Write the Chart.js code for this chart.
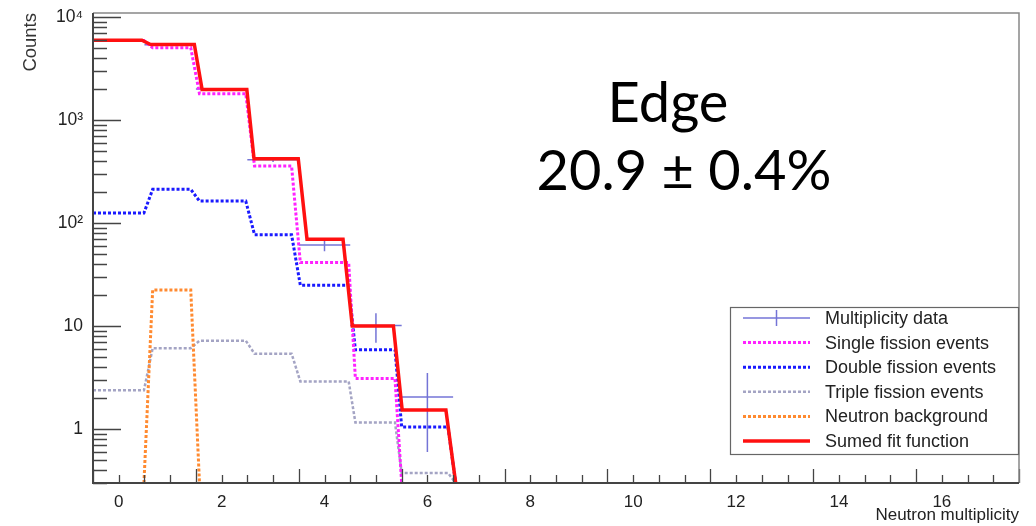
<!DOCTYPE html>
<html>
<head>
<meta charset="utf-8">
<script src="https://cdn.jsdelivr.net/npm/chart.js@4.4.1/dist/chart.umd.min.js"></script>
<style>
  html, body { margin: 0; padding: 0; background: #fff; }
  canvas { display: block; }
</style>
</head>
<body>
<canvas id="chart" width="1036" height="526"></canvas>
<script>
// neutron multiplicity bins
const bins = [0, 1, 2, 3, 4, 5, 6, 7];
// x where each drawn fit curve leaves bin k and reaches bin k+1
const partStepFrom = [0.49, 1.40, 2.47, 3.36, 4.47, 5.37, 6.40];
const partStepTo = [0.66, 1.57, 2.64, 3.53, 4.60, 5.50, 6.55];
const sumStepFrom = [0.45, 1.47, 2.49, 3.49, 4.36, 5.34, 6.36];
const sumStepTo = [0.62, 1.62, 2.63, 3.66, 4.54, 5.51, 6.55];

const singleFission = [5900, 5010, 1795, 357, 41.3, 3.1, 0, 0];
const doubleFission = [125, 212, 163, 77, 24.9, 5.9, 1.05, 0];
const tripleFission = [2.38, 6.1, 7.2, 5.4, 2.9, 1.16, 0.376, 0];
const neutronBackground = [0, 22.4, 0, 0, 0, 0, 0, 0];
const sumedFit = [5930, 5390, 1977, 421, 69.5, 10.0, 1.53, 0];

const dataCounts = [5920, 5350, 1990, 410, 61, 10.1, 2.05];
const dataErrors = [77, 73, 45, 20, 7.8, 3.2, 1.45];

const xTicks = [0, 2, 4, 6, 8, 10, 12, 14, 16];
const yTicks = [1, 10, 100, 1000, 10000];
const yTickLabels = ["1", "10", "10²", "10³", "10⁴"];

const xMin = -0.5, xMax = 17.5;
const yMin = 0.3, yMax = 10900;

// step curve through the bins, zero bins sit on the bottom of the frame
function stepPoints(vals, from, to) {
  const pts = [];
  vals.forEach((v, k) => {
    const y = v > 0 ? v : yMin;
    pts.push({ x: k === 0 ? xMin : to[k - 1], y: y });
    if (k < from.length) pts.push({ x: from[k], y: y });
  });
  const nz = pts.map(p => p.y > yMin);
  const first = nz.indexOf(true);
  const last = nz.lastIndexOf(true);
  return pts.slice(Math.max(0, first - 1), last + 2);
}

function errorBarPoints() {
  const pts = [];
  dataCounts.forEach((v, i) => {
    const k = bins[i];
    pts.push({ x: k - 0.5, y: v }, { x: k + 0.5, y: v }, { x: k, y: null });
    pts.push({ x: k, y: Math.max(v - dataErrors[i], yMin) }, { x: k, y: v + dataErrors[i] }, { x: k, y: null });
  });
  return pts;
}

const datasets = [
  {
    label: "Multiplicity data",
    data: errorBarPoints(),
    borderColor: "rgba(70, 70, 200, 0.75)",
    borderWidth: 1.5,
    errorBars: true,
    order: 5,
  },
  {
    label: "Single fission events",
    data: stepPoints(singleFission, partStepFrom, partStepTo),
    borderColor: "#ff22ff",
    borderWidth: 3,
    borderDash: [3, 2],
    order: 1,
  },
  {
    label: "Double fission events",
    data: stepPoints(doubleFission, partStepFrom, partStepTo),
    borderColor: "#1a1aff",
    borderWidth: 3,
    borderDash: [3, 2],
    order: 2,
  },
  {
    label: "Triple fission events",
    data: stepPoints(tripleFission, partStepFrom, partStepTo),
    borderColor: "#a4a4c4",
    borderWidth: 2.5,
    borderDash: [3, 2],
    order: 4,
  },
  {
    label: "Neutron background",
    data: stepPoints(neutronBackground, partStepFrom, partStepTo),
    borderColor: "#ff8a30",
    borderWidth: 3,
    borderDash: [3, 2],
    order: 3,
  },
  {
    label: "Sumed fit function",
    data: stepPoints(sumedFit, sumStepFrom, sumStepTo),
    borderColor: "#ff1010",
    borderWidth: 3.5,
    order: 0,
  },
];

// ROOT style frame with inward tick marks
const framePlugin = {
  id: "frame",
  afterDatasetsDraw(chart) {
    const { ctx, chartArea: a, scales: { x, y } } = chart;
    ctx.save();
    ctx.strokeStyle = "#444";
    ctx.lineWidth = 1.3;
    ctx.beginPath();
    for (let v = xMin; v <= xMax + 1e-9; v += 0.5) {
      const px = Math.round(x.getPixelForValue(v)) + 0.5;
      const long = Math.abs(((v - 1.5) % 2 + 2) % 2) < 1e-6;
      ctx.moveTo(px, a.bottom);
      ctx.lineTo(px, a.bottom - (long ? 14 : 8));
    }
    for (let d = -1; d <= 4; d++) {
      for (let m = 1; m <= 9; m++) {
        const v = m * Math.pow(10, d);
        if (v < yMin - 1e-9 || v > yMax) continue;
        const py = Math.round(y.getPixelForValue(v)) + 0.5;
        ctx.moveTo(a.left, py);
        ctx.lineTo(a.left + (m === 1 ? 28 : 14), py);
      }
    }
    ctx.stroke();
    ctx.strokeStyle = "#888";
    ctx.lineWidth = 1.5;
    ctx.beginPath();
    ctx.moveTo(a.left, a.top);
    ctx.lineTo(a.right, a.top);
    ctx.lineTo(a.right, a.bottom);
    ctx.stroke();
    ctx.strokeStyle = "#444";
    ctx.lineWidth = 2;
    ctx.beginPath();
    ctx.moveTo(a.left, a.top);
    ctx.lineTo(a.left, a.bottom);
    ctx.lineTo(a.right, a.bottom);
    ctx.stroke();
    ctx.restore();
  },
};

const legendPlugin = {
  id: "rootLegend",
  afterDraw(chart) {
    const ctx = chart.ctx;
    const box = { left: 730, top: 307, right: 1018, bottom: 454 };
    ctx.save();
    ctx.fillStyle = "#fff";
    ctx.fillRect(box.left, box.top, box.right - box.left, box.bottom - box.top);
    ctx.strokeStyle = "#666";
    ctx.lineWidth = 1.2;
    ctx.strokeRect(box.left + 0.5, box.top + 0.5, box.right - box.left, box.bottom - box.top);
    ctx.font = "18px 'Liberation Sans', Arial, sans-serif";
    ctx.textBaseline = "middle";
    chart.data.datasets.forEach((ds, i) => {
      const cy = box.top + 11 + i * 24.6;
      ctx.strokeStyle = ds.borderColor;
      ctx.lineWidth = ds.borderWidth;
      ctx.setLineDash(ds.borderDash || []);
      ctx.beginPath();
      ctx.moveTo(743, cy);
      ctx.lineTo(810, cy);
      if (ds.errorBars) {
        ctx.moveTo(776.5, cy - 8);
        ctx.lineTo(776.5, cy + 8);
      }
      ctx.stroke();
      ctx.setLineDash([]);
      ctx.fillStyle = "#222";
      ctx.fillText(ds.label, 825, cy + 1);
    });
    ctx.restore();
  },
};

const notePlugin = {
  id: "note",
  afterDraw(chart) {
    const ctx = chart.ctx;
    ctx.save();
    ctx.fillStyle = "#000";
    ctx.textAlign = "center";
    ctx.textBaseline = "alphabetic";
    ctx.font = "56px Lato, 'Open Sans', sans-serif";
    ctx.fillText("Edge", 668, 122);
    ctx.fillText("20.9 ± 0.4%", 684, 190);
    ctx.restore();
  },
};

new Chart(document.getElementById("chart"), {
  type: "line",
  data: { datasets: datasets },
  options: {
    responsive: false,
    animation: false,
    devicePixelRatio: 1,
    layout: { padding: { top: 13, right: 17, left: 0, bottom: 0 } },
    elements: {
      point: { radius: 0, hoverRadius: 0 },
      line: { tension: 0, fill: false },
    },
    spanGaps: false,
    plugins: {
      legend: { display: false },
      tooltip: { enabled: false },
    },
    scales: {
      x: {
        type: "linear",
        min: xMin,
        max: xMax,
        afterFit: (s) => { s.height = 43; s.paddingLeft = 0; s.paddingRight = 0; },
        afterBuildTicks: (s) => { s.ticks = xTicks.map(v => ({ value: v })); },
        grid: { display: false },
        border: { display: false },
        ticks: {
          autoSkip: false,
          maxRotation: 0,
          padding: 1,
          color: "#222",
          font: { family: "'Liberation Sans', Arial, sans-serif", size: 17 },
        },
        title: {
          display: true,
          text: "Neutron multiplicity",
          align: "end",
          color: "#222",
          font: { family: "'Liberation Sans', Arial, sans-serif", size: 17 },
          padding: { top: 0, bottom: 0 },
        },
      },
      y: {
        type: "logarithmic",
        min: yMin,
        max: yMax,
        afterFit: (s) => { s.width = 93; s.paddingTop = 0; s.paddingBottom = 0; },
        afterBuildTicks: (s) => { s.ticks = yTicks.map(v => ({ value: v })); },
        grid: { display: false },
        border: { display: false },
        ticks: {
          autoSkip: false,
          padding: 2,
          color: "#222",
          font: { family: "'Liberation Sans', Arial, sans-serif", size: 17.5 },
          callback: (v) => yTickLabels[yTicks.indexOf(v)],
        },
        title: {
          display: true,
          text: "Counts",
          align: "end",
          color: "#333",
          font: { family: "'Liberation Sans', Arial, sans-serif", size: 18.5 },
          padding: { top: 20, bottom: 0 },
        },
      },
    },
  },
  plugins: [framePlugin, legendPlugin, notePlugin],
});
</script>
</body>
</html>
